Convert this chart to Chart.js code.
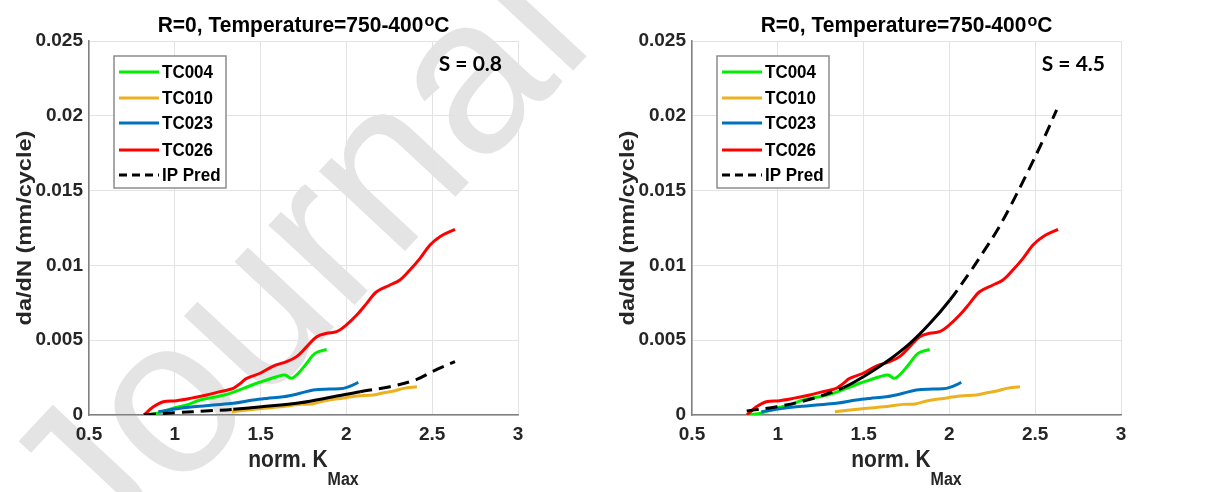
<!DOCTYPE html>
<html>
<head>
<meta charset="utf-8">
<script src="https://cdn.jsdelivr.net/npm/chart.js@4.4.1/dist/chart.umd.min.js"></script>
<style>
  html, body { margin: 0; padding: 0; background: #fff; }
  #wrap { position: relative; width: 1220px; height: 492px; overflow: hidden; }
  .panel { position: absolute; top: 0; width: 610px; height: 492px; }
</style>
</head>
<body>
<div id="wrap">
  <div class="panel" style="left:0"><canvas id="left" width="610" height="492"></canvas></div>
  <div class="panel" style="left:610px"><canvas id="right" width="610" height="492"></canvas></div>
</div>
<script>
// axis ticks
const xTicks = [0.5, 1, 1.5, 2, 2.5, 3];
const xTickLabels = ['0.5', '1', '1.5', '2', '2.5', '3'];
const yTicks = [0, 0.005, 0.01, 0.015, 0.02, 0.025];
const yTickLabels = ['0', '0.005', '0.01', '0.015', '0.02', '0.025'];

const seriesNames = ['TC004', 'TC010', 'TC023', 'TC026', 'IP Pred'];

// test data (norm. Kmax vs da/dN), same in both panels
const tc004K = [0.82, 0.894, 0.991, 1.069, 1.147, 1.244, 1.322, 1.4, 1.477, 1.536, 1.594, 1.642, 1.681, 1.72, 1.769, 1.817, 1.885];
const tc004Rate = [0.0, 0.00011, 0.00045, 0.00067, 0.0010, 0.00122, 0.00145, 0.00178, 0.00212, 0.00234, 0.00256, 0.00267, 0.00245, 0.00279, 0.00346, 0.00412, 0.00439];

const tc010K = [1.333, 1.479, 1.615, 1.731, 1.8, 1.868, 1.964, 2.062, 2.159, 2.217, 2.276, 2.334, 2.411];
const tc010Rate = [0.00022, 0.0004, 0.00055, 0.00071, 0.00074, 0.00094, 0.00111, 0.00127, 0.00134, 0.00149, 0.0016, 0.00178, 0.00189];

const tc023K = [0.904, 0.991, 1.108, 1.224, 1.341, 1.457, 1.536, 1.632, 1.73, 1.807, 1.904, 1.982, 2.04, 2.069];
const tc023Rate = [0.00022, 0.00038, 0.00055, 0.00067, 0.00078, 0.001, 0.00111, 0.00122, 0.00145, 0.00167, 0.00174, 0.00178, 0.00201, 0.00219];

const tc026K = [0.82, 0.875, 0.933, 1.01, 1.089, 1.186, 1.263, 1.341, 1.38, 1.419, 1.497, 1.574, 1.652, 1.71, 1.769, 1.827, 1.885, 1.943, 2.0, 2.06, 2.118, 2.176, 2.254, 2.312, 2.37, 2.429, 2.487, 2.545, 2.633];
const tc026Rate = [0.0, 0.00055, 0.00089, 0.00096, 0.00111, 0.00134, 0.00156, 0.00178, 0.0021, 0.00245, 0.00279, 0.00327, 0.00357, 0.0039, 0.00457, 0.00523, 0.00546, 0.00557, 0.00602, 0.00668, 0.00746, 0.00824, 0.00869, 0.00902, 0.00969, 0.01047, 0.01136, 0.01192, 0.01241];

// IP predictions
const predK_S08 = [0.82, 1.01, 1.2, 1.341, 1.506, 1.73, 1.924, 2.08, 2.254, 2.41, 2.5, 2.633];
const predRate_S08 = [0.0, 0.00016, 0.00028, 0.00038, 0.00055, 0.00082, 0.00122, 0.00156, 0.00189, 0.00238, 0.0029, 0.00357];

const predK_S45 = [0.819, 0.994, 1.188, 1.382, 1.499, 1.635, 1.77, 1.887, 2.003, 2.12, 2.198, 2.276, 2.353, 2.45, 2.547, 2.625];
const predRate_S45 = [0.00027, 0.00055, 0.00105, 0.00183, 0.00256, 0.00357, 0.00479, 0.00613, 0.00769, 0.00955, 0.0109, 0.0123, 0.0139, 0.0161, 0.0184, 0.0204];

const titleMain = 'R=0, Temperature=750-400';
const colors = ['#00ee00', '#EDB120', '#0072BD', '#FF0000', '#000000'];
const FONT = '"Liberation Sans", Arial, sans-serif';
const DASH = [12, 7];

function pts(k, r) {
    return k.map((x, i) => ({x: x, y: r[i]}));
}

function txt(ctx, s, x, y, font, align, base, sx, sy, rot) {
    ctx.save();
    ctx.translate(x, y);
    if (rot) ctx.rotate(rot);
    ctx.scale(sx || 1, sy || 1);
    ctx.font = font;
    ctx.textAlign = align || 'left';
    ctx.textBaseline = base || 'alphabetic';
    ctx.fillText(s, 0, 0);
    ctx.restore();
}

const decor = {
    id: 'decor',
    beforeDraw(chart, args, opts) {
        if (!opts.watermark) return;
        let ctx = chart.ctx;
        ctx.save();
        ctx.translate(100, 578);
        ctx.rotate(-47 * Math.PI / 180);
        ctx.font = '222px ' + FONT;
        ctx.fillStyle = '#e4e4e4';
        ctx.fillText('Journal Pre-proof', 0, 0);
        ctx.restore();
    },
    afterDraw(chart, args, opts) {
        let ctx = chart.ctx;
        let a = chart.chartArea;
        let cx = (a.left + a.right) / 2;
        let cy = (a.top + a.bottom) / 2;

        // title with superscript o
        ctx.save();
        ctx.fillStyle = '#000';
        let fMain = 'bold 21px ' + FONT, fSup = 'bold 16px ' + FONT;
        ctx.font = fMain;
        let w1 = ctx.measureText(titleMain).width;
        let wc = ctx.measureText('C').width;
        ctx.font = fSup;
        let wo = ctx.measureText('o').width + 1;
        let x0 = cx - (w1 + wo + wc) / 2;
        txt(ctx, titleMain, x0, 32, fMain, 'left', 'alphabetic', 1, 1.05);
        txt(ctx, 'o', x0 + w1 + 1, 26, fSup, 'left', 'alphabetic', 1, 1.05);
        txt(ctx, 'C', x0 + w1 + wo, 32, fMain, 'left', 'alphabetic', 1, 1.05);

        // axis titles
        ctx.fillStyle = '#262626';
        let fx = 'bold 21px ' + FONT, fs = 'bold 16px ' + FONT;
        ctx.font = fx;
        let wn = ctx.measureText('norm. K').width;
        ctx.font = fs;
        let wm = ctx.measureText('Max').width;
        let xs = cx - (wn + wm) / 2;
        txt(ctx, 'norm. K', xs, 467, fx, 'left', 'alphabetic', 1, 1.1);
        txt(ctx, 'Max', xs + wn, 485, fs, 'left', 'alphabetic', 1, 1.1);
        txt(ctx, 'da/dN (mm/cycle)', a.left - 64, cy, 'bold 21px ' + FONT, 'center', 'middle', 1.12, 1, -Math.PI / 2);

        // legend box
        let bx = a.left + 25, by = a.top + 15;
        ctx.fillStyle = '#fff';
        ctx.fillRect(bx, by, 112, 132);
        ctx.strokeStyle = '#8c8c8c';
        ctx.lineWidth = 1.5;
        ctx.strokeRect(bx, by, 112, 132);
        let rows = [16, 42, 67, 94, 119];
        chart.data.datasets.forEach((d, i) => {
            let ry = by + rows[i];
            ctx.beginPath();
            ctx.strokeStyle = d.borderColor;
            ctx.lineWidth = 3;
            ctx.setLineDash(i === 4 ? [8, 5] : []);
            ctx.moveTo(bx + 5, ry);
            ctx.lineTo(bx + 45, ry);
            ctx.stroke();
            ctx.setLineDash([]);
            ctx.fillStyle = '#000';
            txt(ctx, d.label, bx + 48, ry + 1, 'bold 17px ' + FONT, 'left', 'middle', 1, 1.12);
        });

        // S label
        ctx.fillStyle = '#000';
        txt(ctx, opts.sLabel, a.right - 16, a.top + 30, 'bold 21px Lato, "Open Sans", sans-serif', 'right', 'alphabetic');
        ctx.restore();
    }
};

function makeChart(id, predK, predRate, sLabel, solid, padL, padR, watermark) {
    let rates = [tc004Rate, tc010Rate, tc023Rate, tc026Rate, predRate];
    let ks = [tc004K, tc010K, tc023K, tc026K, predK];
    let datasets = seriesNames.map((name, i) => {
        let ds = {
            label: name,
            data: pts(ks[i], rates[i]),
            borderColor: colors[i],
            borderWidth: 3,
            pointRadius: 0,
            tension: 0.35,
            fill: false,
            order: 4 - i
        };
        if (i === 4) {
            ds.order = -1;
            ds.borderDash = DASH;
            ds.segment = {
                borderDash: c => (c.p0.parsed.x >= solid[0] && c.p1.parsed.x <= solid[1]) ? [] : DASH
            };
        }
        return ds;
    });

    let tickFont = {family: FONT, size: 19, weight: 'bold'};

    return new Chart(document.getElementById(id), {
        type: 'line',
        data: {datasets: datasets},
        options: {
            responsive: false,
            animation: false,
            events: [],
            layout: {padding: {left: padL, right: padR, top: 41, bottom: 47}},
            plugins: {
                legend: {display: false},
                tooltip: {enabled: false},
                decor: {sLabel: sLabel, watermark: watermark}
            },
            scales: {
                x: {
                    type: 'linear',
                    min: 0.5, max: 3,
                    afterBuildTicks: s => { s.ticks = xTicks.map(v => ({value: v})); },
                    afterFit: s => { s.height = 30; },
                    ticks: {
                        callback: v => xTickLabels[xTicks.indexOf(v)],
                        font: tickFont, color: '#262626', padding: 8,
                        maxRotation: 0, autoSkip: false
                    },
                    grid: {color: '#e3e3e3', lineWidth: 1, drawTicks: false},
                    border: {color: '#808080', width: 1.5}
                },
                y: {
                    type: 'linear',
                    min: 0, max: 0.025,
                    afterBuildTicks: s => { s.ticks = yTicks.map(v => ({value: v})); },
                    afterFit: s => { s.width = 60; },
                    ticks: {
                        callback: v => yTickLabels[yTicks.indexOf(v)],
                        font: tickFont, color: '#262626', padding: 6
                    },
                    grid: {color: '#e3e3e3', lineWidth: 1, drawTicks: false},
                    border: {color: '#808080', width: 1.5}
                }
            }
        },
        plugins: [decor]
    });
}

makeChart('left', predK_S08, predRate_S08, 'S = 0.8', [1.34, 2.09], 29, 92, true);
makeChart('right', predK_S45, predRate_S45, 'S = 4.5', [1.3, 2.01], 22, 99, false);
</script>
</body>
</html>
